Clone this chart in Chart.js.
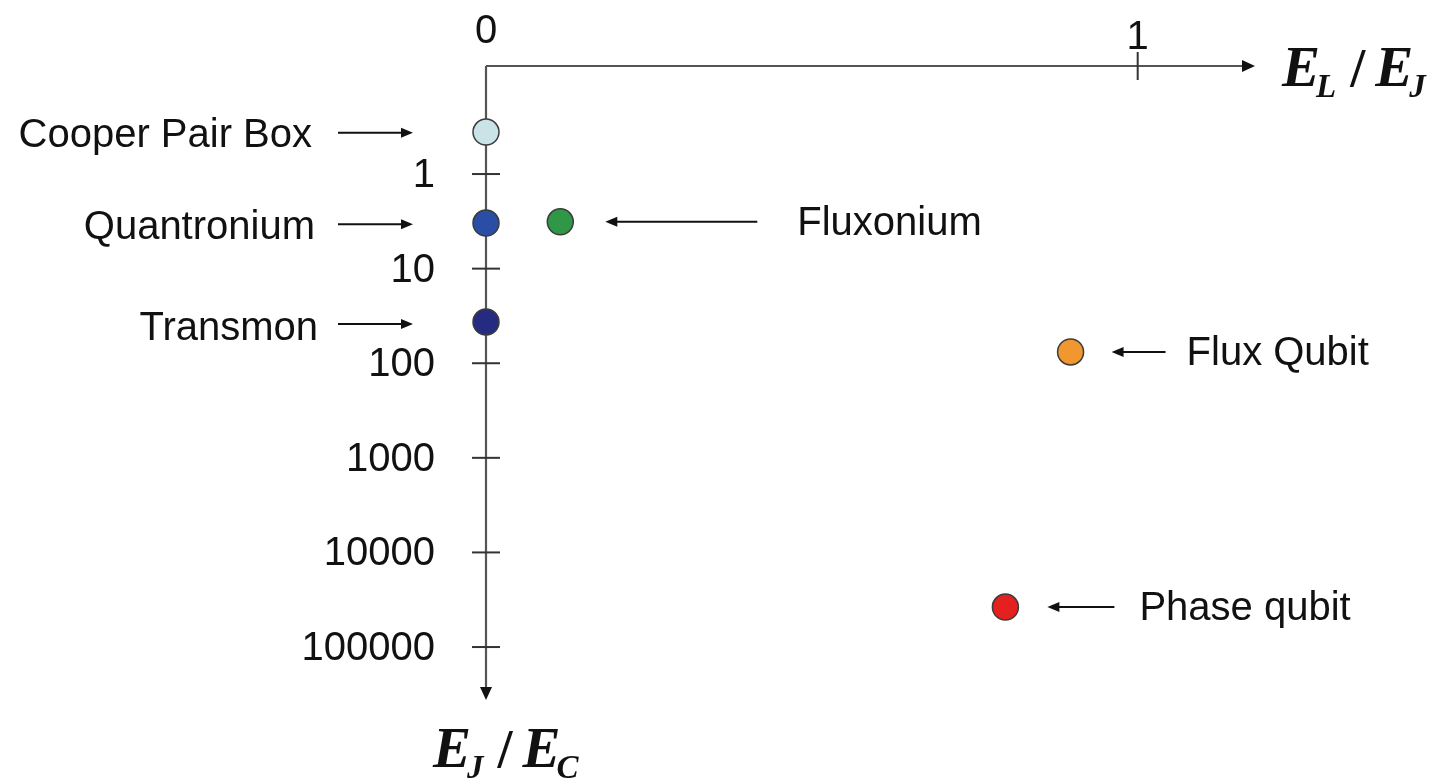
<!DOCTYPE html>
<html>
<head>
<meta charset="utf-8">
<script src="https://cdn.jsdelivr.net/npm/chart.js@4.4.0/dist/chart.umd.min.js"></script>
<style>
  html,body{margin:0;padding:0;background:#fff;}
  #wrap{width:1441px;height:784px;}
</style>
</head>
<body>
<div id="wrap"><canvas id="qubitChart" width="1441" height="784"></canvas></div>
<script>
// qubit families placed by E_L/E_J (x) and E_J/E_C (y, log, pointing down)
const qubits=['Cooper Pair Box','Quantronium','Transmon','Fluxonium','Flux Qubit','Phase qubit'];
const elOverEj=[0,0,0,0.114,0.897,0.797];
const ejOverEc=[0.36,3.3,36.7,3.2,76,37800];
const xTicks=[0,1];
const yTicks=[1,10,100,1000,10000,100000];
const fills=['#c9e3e6','#2a4da6','#262b82','#2f9746','#f0982f','#e4211f'];

// where each name sits relative to its dot (px): arrow tip, arrow tail, text edge
const labelLayout=[
  {side:'left', tip:73, tail:148, text:174, dy:2},
  {side:'left', tip:73, tail:148, text:171, dy:3},
  {side:'left', tip:73, tail:148, text:168, dy:5},
  {side:'right',tip:45, tail:197, text:237, dy:0},
  {side:'right',tip:41, tail:95,  text:116, dy:0},
  {side:'right',tip:42, tail:109, text:134, dy:0}
];

const SANS='"Liberation Sans", Arial, sans-serif';
const SERIF='"Liberation Serif", "Times New Roman", serif';

function arrow(ctx,x1,y1,x2,y2,len,half){
  // line from (x1,y1) with a filled head at (x2,y2)
  let a=Math.atan2(y2-y1,x2-x1);
  ctx.beginPath();ctx.moveTo(x1,y1);
  ctx.lineTo(x2-Math.cos(a)*len*0.8,y2-Math.sin(a)*len*0.8);ctx.stroke();
  ctx.beginPath();
  ctx.moveTo(x2,y2);
  ctx.lineTo(x2-Math.cos(a)*len-Math.sin(a)*half,y2-Math.sin(a)*len+Math.cos(a)*half);
  ctx.lineTo(x2-Math.cos(a)*len+Math.sin(a)*half,y2-Math.sin(a)*len-Math.cos(a)*half);
  ctx.closePath();ctx.fill();
}

function ratio(ctx,x,base,sub1,sub2){
  // E_a / E_b in bold italic serif, upright slash
  let big='italic bold 57px '+SERIF, small='italic bold 33px '+SERIF, bar='bold 54px '+SERIF;
  ctx.textAlign='left';ctx.textBaseline='alphabetic';
  ctx.font=big;ctx.fillText('E',x,base);x+=ctx.measureText('E').width;
  ctx.font=small;ctx.fillText(sub1,x-4,base+11);x+=ctx.measureText(sub1).width;
  ctx.font=bar;ctx.fillText('/',x+10,base);x+=ctx.measureText('/').width+20;
  ctx.font=big;ctx.fillText('E',x,base);x+=ctx.measureText('E').width;
  ctx.font=small;ctx.fillText(sub2,x-4,base+11);
}

const axesPlugin={
  id:'axesPlugin',
  beforeDatasetsDraw(chart){
    let ctx=chart.ctx,xs=chart.scales.x,ys=chart.scales.y,area=chart.chartArea;
    let x0=xs.getPixelForValue(0),top=area.top,bottom=area.bottom,right=area.right;
    ctx.save();
    ctx.strokeStyle='#555';ctx.fillStyle='#111';ctx.lineWidth=2.2;
    arrow(ctx,x0,top,right,top,13,6);
    arrow(ctx,x0,top,x0,bottom,13,6);
    // ticks
    ctx.strokeStyle='#333';ctx.lineWidth=2;
    yTicks.forEach(v=>{
      let y=ys.getPixelForValue(v);
      ctx.beginPath();ctx.moveTo(x0-14,y);ctx.lineTo(x0+14,y);ctx.stroke();
    });
    xTicks.forEach(v=>{
      if(v===0)return;
      let x=xs.getPixelForValue(v);
      ctx.beginPath();ctx.moveTo(x,top-14);ctx.lineTo(x,top+14);ctx.stroke();
    });
    // tick labels
    ctx.fillStyle='#111';ctx.font='40px '+SANS;
    ctx.textAlign='right';ctx.textBaseline='middle';
    yTicks.forEach(v=>ctx.fillText(String(v),x0-51,ys.getPixelForValue(v)+2));
    ctx.textAlign='center';
    xTicks.forEach(v=>ctx.fillText(String(v),xs.getPixelForValue(v),top-34+v*6));
    // axis titles
    ratio(ctx,right+27,top+20,'L','J');
    ratio(ctx,x0-53,bottom+67,'J','C');
    ctx.restore();
  },
  afterDatasetsDraw(chart){
    let ctx=chart.ctx,meta=chart.getDatasetMeta(0);
    ctx.save();
    ctx.strokeStyle='#111';ctx.fillStyle='#111';ctx.lineWidth=2;
    ctx.font='40px '+SANS;ctx.textBaseline='middle';
    meta.data.forEach((pt,i)=>{
      let L=labelLayout[i],s=L.side==='left'?-1:1;
      arrow(ctx,pt.x+s*L.tail,pt.y+L.dy*0.4,pt.x+s*L.tip,pt.y+L.dy*0.4,12,5);
      ctx.textAlign=L.side==='left'?'right':'left';
      ctx.fillText(qubits[i],pt.x+s*L.text,pt.y+L.dy+2);
    });
    ctx.restore();
  }
};

new Chart(document.getElementById('qubitChart').getContext('2d'),{
  type:'scatter',
  data:{
    labels:qubits,
    datasets:[{
      data:elOverEj.map((x,i)=>({x:x,y:ejOverEc[i]})),
      backgroundColor:fills,
      borderColor:'#3c3c3c',
      borderWidth:1.5,
      pointRadius:13,
      clip:false
    }]
  },
  options:{
    responsive:false,
    devicePixelRatio:1,
    animation:false,
    layout:{padding:{left:486,top:66,right:186,bottom:84}},
    plugins:{legend:{display:false},tooltip:{enabled:false}},
    scales:{
      x:{type:'linear',min:0,max:1.18,display:false},
      y:{type:'logarithmic',reverse:true,min:0.0721,max:363000,display:false}
    }
  },
  plugins:[axesPlugin]
});
</script>
</body>
</html>
